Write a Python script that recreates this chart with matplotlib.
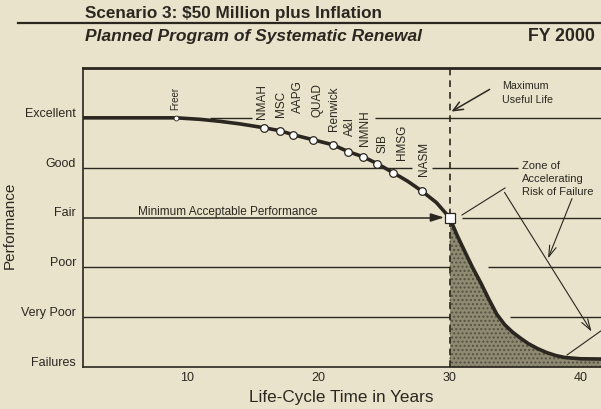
import matplotlib
matplotlib.use("Agg")
import matplotlib.pyplot as plt
from matplotlib.transforms import ScaledTranslation
from matplotlib.lines import Line2D

plt.rcParams['font.family'] = ['Liberation Sans', 'DejaVu Sans']

# ---------------- data ----------------
level_names = ["Failures", "Very Poor", "Poor", "Fair", "Good", "Excellent"]
level_values = [0, 1, 2, 3, 4, 5]
x_ticks = [10, 20, 30, 40]

curve_years = [2.08, 9.2, 11.0, 12.5, 14.0, 15.9, 17.1, 18.1, 19.6, 21.1, 22.3,
               23.4, 24.5, 25.7, 26.8, 27.9, 29.0, 30.0, 30.6, 31.2, 31.75,
               32.4, 33.0, 33.6, 34.2, 34.8, 35.4, 36.0, 36.7, 37.4, 38.1,
               38.8, 40.0, 41.6]
curve_perf = [5.0, 5.0, 4.97, 4.93, 4.88, 4.80, 4.74, 4.66, 4.56, 4.46, 4.32,
              4.22, 4.08, 3.90, 3.73, 3.53, 3.30, 3.0, 2.63, 2.30, 2.0,
              1.68, 1.36, 1.06, 0.85, 0.70, 0.58, 0.47, 0.37, 0.29, 0.23,
              0.19, 0.165, 0.16]

buildings = ["Freer", "NMAH", "MSC", "AAPG", "QUAD", "Renwick", "A&I", "NMNH",
             "SIB", "HMSG", "NASM"]
bldg_years = [9.2, 15.9, 17.1, 18.1, 19.6, 21.1, 22.3, 23.4, 24.5, 25.7, 27.9]
bldg_perf = [5.0, 4.80, 4.74, 4.66, 4.56, 4.46, 4.32, 4.22, 4.08, 3.90, 3.53]

max_useful_life = 30
min_acceptable = 3

# ---------------- layout / style ----------------
BG = '#e9e3cb'
INK = '#2b2720'
label_dx_px = [-1, -2, 1, 5, 5, 1, 2, 2, 5, 9, 2]
label_dy_px = [9, 10, 15, 23, 24, 15, 17, 12, 12, 14, 16]

fig = plt.figure(figsize=(6.01, 4.10), dpi=100, facecolor=BG)
ax = fig.add_axes([83/601, 1-368/410, 1-83/601, (368-69)/410])
ax.set_facecolor(BG)
XMIN, XMAX = 2.08, 41.54
ax.set_xlim(XMIN, XMAX)
ax.set_ylim(0, 6)

for s in ['top', 'left', 'bottom']:
    ax.spines[s].set_color(INK)
ax.spines['top'].set_linewidth(2.0)
ax.spines['left'].set_linewidth(1.2)
ax.spines['bottom'].set_linewidth(1.2)
ax.spines['right'].set_visible(False)

def px2x(px):
    return (px - 55.75) / 13.125

def py2y(py):
    return (368 - py) / 49.83

# grid lines (segments with gaps like the reference)
glw = 1.0
segs = {
    5: [(px2x(210), px2x(252)), (px2x(375), XMAX)],
    4: [(XMIN, px2x(412)), (px2x(432), px2x(518))],
    3: [(px2x(462), XMAX)],
    2: [(XMIN, 30), (px2x(488), XMAX)],
    1: [(XMIN, 30), (px2x(510), XMAX)],
}
for lvl, pieces in segs.items():
    for a, b in pieces:
        ax.plot([a, b], [lvl, lvl], color=INK, lw=glw, zorder=1, solid_capstyle='butt')

# shaded zone of accelerating risk
zx = [x for x in curve_years if x >= max_useful_life]
zy = [y for x, y in zip(curve_years, curve_perf) if x >= max_useful_life]
ax.fill_between(zx, 0, zy, color='#858069', alpha=0.9, lw=0, zorder=2)
ax.fill_between(zx, 0, zy, facecolor='none', hatch='....', edgecolor='#55523f', lw=0, zorder=2)

# dashed vertical line
ax.axvline(max_useful_life, color=INK, lw=1.2, ls=(0, (4, 3)), zorder=3)

# minimum acceptable performance line + arrow
ax.plot([XMIN, 29.0], [min_acceptable] * 2, color=INK, lw=1.1, zorder=3)
ax.annotate('', xy=(29.8, min_acceptable), xytext=(28.5, min_acceptable),
            arrowprops=dict(arrowstyle='-|>,head_length=0.8,head_width=0.25',
                            color=INK, lw=1.1), zorder=4)
ax.text(px2x(228), py2y(212), 'Minimum Acceptable Performance', fontsize=8.5,
        ha='center', va='center', color=INK)

# life-cycle curve
ax.plot(curve_years, curve_perf, color=INK, lw=2.6, zorder=5, solid_capstyle='round')
ax.plot(bldg_years[1:], bldg_perf[1:], ls='none', marker='o', ms=5.5, mfc='white',
        mec=INK, mew=0.9, zorder=6)
ax.plot(bldg_years[:1], bldg_perf[:1], ls='none', marker='o', ms=3.5, mfc='white',
        mec=INK, mew=0.6, zorder=6)
ax.plot([max_useful_life], [min_acceptable], ls='none', marker='s', ms=6.5,
        mfc='white', mec=INK, mew=0.9, zorder=7)

for name, bx, by, dx, dy in zip(buildings, bldg_years, bldg_perf, label_dx_px, label_dy_px):
    ax.annotate(name, xy=(bx, by), xytext=(dx * 0.72, dy * 0.72),
                textcoords='offset points', rotation=90, ha='center', va='bottom',
                fontsize=8.5 if name != 'Freer' else 7, color=INK, zorder=6)

# Maximum useful life annotation
ax.annotate('', xy=(px2x(449), py2y(114)), xytext=(px2x(492), py2y(89)),
            arrowprops=dict(arrowstyle='->,head_length=0.7,head_width=0.3', color=INK, lw=1.1))
ax.text(px2x(502), py2y(93), 'Maximum\nUseful Life', fontsize=7.7, ha='left',
        va='center', color=INK, linespacing=1.45)

# zone of accelerating risk annotation
ax.text(px2x(522), py2y(179), 'Zone of\nAccelerating\nRisk of Failure', fontsize=8,
        ha='left', va='center', color=INK, linespacing=1.4)
ax.plot([px2x(462), px2x(505)], [py2y(216), py2y(189)], color=INK, lw=0.8, zorder=4)
ax.plot([px2x(567), px2x(612)], [py2y(356), py2y(324)], color=INK, lw=0.8, zorder=4,
        clip_on=True)
ax.annotate('', xy=(px2x(593), py2y(335)), xytext=(px2x(503), py2y(191)),
            arrowprops=dict(arrowstyle='->,head_length=0.8,head_width=0.25', color=INK, lw=0.8))
ax.annotate('', xy=(px2x(547), py2y(262)), xytext=(px2x(573), py2y(197)),
            arrowprops=dict(arrowstyle='->,head_length=0.8,head_width=0.25', color=INK, lw=0.8))

# ticks
ax.set_yticks(level_values, level_names)
ax.set_xticks(x_ticks, [str(t) for t in x_ticks])
ax.tick_params(axis='both', length=0, colors=INK, labelsize=9)
ax.tick_params(axis='y', pad=5)
ax.tick_params(axis='x', pad=3)
for lab in ax.get_yticklabels():
    lab.set_transform(lab.get_transform() + ScaledTranslation(0, 6.5/100, fig.dpi_scale_trans))
    lab.set_fontweight('medium')

fig.text(10/601, 1-225/410, 'Performance', rotation=90, ha='center', va='center',
         fontsize=11, color=INK)
fig.text(341/601, 1-398/410, 'Life-Cycle Time in Years', ha='center', va='center',
         fontsize=12.3, color=INK)

# header
fig.text(85/601, 1-18/410, 'Scenario 3: $50 Million plus Inflation', ha='left',
         va='baseline', fontsize=12.3, fontweight='bold', color=INK)
fig.add_artist(Line2D([18/601, 1.0], [1-24/410] * 2, color=INK, lw=1.6,
                      transform=fig.transFigure))
fig.text(85/601, 1-41/410, 'Planned Program of Systematic Renewal', ha='left',
         va='baseline', fontsize=12.5, fontweight='bold', fontstyle='italic', color=INK)
fig.text(595/601, 1-41/410, 'FY 2000', ha='right', va='baseline', fontsize=12.8,
         fontweight='bold', color=INK)

fig.savefig('out.png', dpi=100, facecolor=BG)
